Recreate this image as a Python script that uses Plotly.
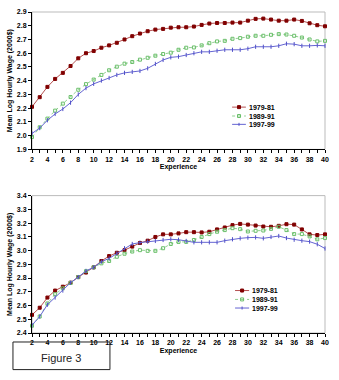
import plotly.graph_objects as go

exper = list(range(2, 41))
tick_vals = list(range(2, 41, 2))

top_1979 = [2.21, 2.28, 2.355, 2.413, 2.457, 2.507, 2.563, 2.60, 2.616, 2.64, 2.657, 2.676, 2.70, 2.724, 2.743, 2.76, 2.772, 2.777, 2.786,
            2.789, 2.789, 2.794, 2.806, 2.816, 2.82, 2.82, 2.823, 2.823, 2.837, 2.85, 2.852, 2.845, 2.837, 2.837, 2.845, 2.835, 2.818, 2.804, 2.796]
top_1989 = [1.99, 2.061, 2.124, 2.182, 2.233, 2.281, 2.334, 2.375, 2.408, 2.442, 2.476, 2.502, 2.524, 2.536, 2.553, 2.567, 2.582, 2.594, 2.604,
            2.625, 2.64, 2.642, 2.657, 2.673, 2.686, 2.69, 2.705, 2.71, 2.72, 2.727, 2.727, 2.734, 2.739, 2.736, 2.727, 2.714, 2.70, 2.686, 2.69]
top_1997 = [2.016, 2.055, 2.112, 2.158, 2.194, 2.24, 2.30, 2.346, 2.377, 2.401, 2.42, 2.442, 2.457, 2.464, 2.471, 2.49, 2.522, 2.551, 2.57,
            2.575, 2.587, 2.60, 2.61, 2.61, 2.618, 2.625, 2.625, 2.625, 2.633, 2.647, 2.647, 2.647, 2.654, 2.669, 2.666, 2.654, 2.654, 2.657, 2.654]

bot_1979 = [2.532, 2.584, 2.658, 2.709, 2.737, 2.766, 2.807, 2.84, 2.878, 2.924, 2.96, 2.984, 3.003, 3.029, 3.055, 3.072, 3.099, 3.118, 3.118,
            3.125, 3.134, 3.134, 3.132, 3.137, 3.154, 3.168, 3.185, 3.194, 3.189, 3.182, 3.175, 3.173, 3.18, 3.192, 3.189, 3.154, 3.118, 3.113, 3.118]
bot_1989 = [2.453, 2.52, 2.615, 2.682, 2.725, 2.764, 2.807, 2.85, 2.878, 2.907, 2.924, 2.955, 2.977, 2.993, 3.003, 2.998, 2.998, 3.017, 3.048,
            3.063, 3.063, 3.077, 3.099, 3.12, 3.137, 3.149, 3.163, 3.156, 3.139, 3.144, 3.146, 3.158, 3.173, 3.149, 3.12, 3.12, 3.103, 3.082, 3.091]
bot_1997 = [2.457, 2.52, 2.606, 2.658, 2.709, 2.766, 2.807, 2.852, 2.878, 2.919, 2.943, 2.979, 3.017, 3.048, 3.058, 3.065, 3.07, 3.077, 3.082,
            3.079, 3.07, 3.06, 3.06, 3.06, 3.06, 3.072, 3.082, 3.089, 3.094, 3.096, 3.089, 3.099, 3.106, 3.091, 3.079, 3.072, 3.065, 3.046, 3.015]

names = ["1979-81", "1989-91", "1997-99"]
line_colors = ["#b45050", "#8fcf8f", "#6464d2"]
mark_colors = ["#800000", "#6abf6a", "#5050c8"]
dashes = ["solid", "dot", "solid"]
symbols = ["square", "square-open", "line-ns-open"]

FONT = "Liberation Sans, Arial, sans-serif"
fig = go.Figure()

def add_series(series, xa, ya):
    for ys, nm, lc, mc, ds, sy in zip(series, names, line_colors, mark_colors, dashes, symbols):
        fig.add_trace(go.Scatter(x=exper, y=ys, name=nm, mode="lines+markers", xaxis=xa, yaxis=ya,
                                 showlegend=False, cliponaxis=False,
                                 line=dict(color=lc, width=1, dash=ds),
                                 marker=dict(symbol=sy, size=3, color=mc, line=dict(width=1, color=mc))))

add_series([top_1979, top_1989, top_1997], "x", "y")
add_series([bot_1979, bot_1989, bot_1997], "x2", "y2")

tickfont = dict(family=FONT, size=7, color="#000", weight="bold")
titlefont = dict(family=FONT, size=7, color="#000", weight="bold")

def xax(anchor):
    return dict(anchor=anchor, range=[2, 40], tickvals=tick_vals, ticks="outside", ticklen=3, tickcolor="#000",
                showline=True, linecolor="#000", linewidth=1, showgrid=False, zeroline=False,
                tickfont=tickfont, title=dict(text="Experience", font=titlefont, standoff=2),
                minor=dict(dtick=1, tick0=2, ticks="outside", ticklen=3, tickcolor="#000"))

def yax(anchor, rng, dom):
    return dict(anchor=anchor, range=rng, domain=dom, dtick=0.1, tickformat=".1f", ticks="outside", ticklen=3,
                tickcolor="#000", showline=True, linecolor="#000", linewidth=1, showgrid=False, zeroline=False,
                tickfont=tickfont, title=dict(text="Mean Log Hourly Wage (2000$)", font=titlefont, standoff=3))

shapes = [
    dict(type="rect", xref="x domain", yref="y domain", x0=0, x1=1, y0=0, y1=1, line=dict(color="#bbbbbb", width=1), layer="below"),
    dict(type="rect", xref="x2 domain", yref="y2 domain", x0=0, x1=1, y0=0, y1=1, line=dict(color="#bbbbbb", width=1), layer="below"),
    dict(type="rect", xref="paper", yref="paper", x0=-0.065, x1=0.266, y0=-0.114, y1=-0.028, line=dict(color="#222", width=1)),
]
annotations = [dict(text="Figure 3", xref="paper", yref="paper", x=0.1, y=-0.077, xanchor="center", yanchor="middle",
                    showarrow=False, font=dict(family=FONT, size=11, color="#222"))]

def legend(x0, x1, ys):
    xm = (x0 + x1) / 2
    for nm, lc, mc, ds, sy, yy in zip(names, line_colors, mark_colors, dashes, symbols, ys):
        shapes.append(dict(type="line", xref="paper", yref="paper", x0=x0, x1=x1, y0=yy, y1=yy,
                           line=dict(color=lc, width=1, dash=ds)))
        if sy == "square":
            shapes.append(dict(type="rect", xref="paper", yref="paper", xsizemode="pixel", ysizemode="pixel",
                               xanchor=xm, yanchor=yy, x0=-1.5, x1=1.5, y0=-1.5, y1=1.5, fillcolor=mc, line=dict(color=mc, width=1)))
        elif sy == "square-open":
            shapes.append(dict(type="rect", xref="paper", yref="paper", xsizemode="pixel", ysizemode="pixel",
                               xanchor=xm, yanchor=yy, x0=-1.5, x1=1.5, y0=-1.5, y1=1.5, line=dict(color=mc, width=1)))
        else:
            shapes.append(dict(type="line", xref="paper", yref="paper", xsizemode="pixel", ysizemode="pixel",
                               xanchor=xm, yanchor=yy, x0=0, x1=0, y0=-1.5, y1=1.5, line=dict(color=mc, width=1)))
        annotations.append(dict(text=nm, xref="paper", yref="paper", x=x1 + 0.004, y=yy, xanchor="left", yanchor="middle",
                                showarrow=False, font=dict(family=FONT, size=7, color="#000", weight="bold")))

legend(0.683, 0.730, [0.7037, 0.676, 0.650])
legend(0.693, 0.741, [0.1323, 0.1046, 0.0778])

fig.update_layout(
    width=339, height=380, margin=dict(l=32, r=14, t=8, b=47),
    paper_bgcolor="white", plot_bgcolor="white", showlegend=False,
    xaxis=xax("y"), yaxis=yax("x", [1.9, 2.9], [0.572, 1.0]),
    xaxis2=xax("y2"), yaxis2=yax("x2", [2.4, 3.4], [0.0, 0.428]),
    shapes=shapes, annotations=annotations,
)
fig.write_html("out.html")
